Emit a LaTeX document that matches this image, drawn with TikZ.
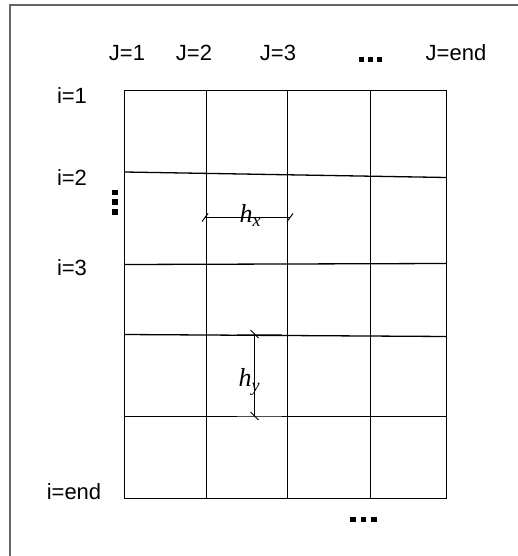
\documentclass[tikz,border=0pt]{standalone}
\usepackage{fontspec}
\setmainfont{Liberation Sans}
\newfontfamily\serifit{Liberation Serif}
\begin{document}
\begin{tikzpicture}[x=1pt,y=-1pt,
  gridline/.style={black,line width=1.3pt},
  frameline/.style={black!60,line width=2pt},
  lbl/.style={font=\fontsize{22}{24}\selectfont,inner sep=0pt},
  dimlabel/.style={font=\fontsize{26}{28}\selectfont\serifit\itshape,inner sep=0pt},
  tick/.style={black,line width=1pt}]
\useasboundingbox (0,0) rectangle (517,556);
\fill[white] (0,0) rectangle (517,556);
% frame (running off the right and bottom)
\draw[frameline] (10,5.5) rectangle (540,580);
% grid
\draw[gridline] (124.5,90.5) rectangle (446.5,498.5);
\foreach \x in {206.5,287.5,370.5} \draw[gridline] (\x,90.5) -- (\x,498.5);
\draw[gridline] (124.5,172) -- (446.5,177.5);
\draw[gridline] (124.5,264.5) -- (446.5,263.5);
\draw[gridline] (124.5,334.5) -- (446.5,336.5);
\draw[gridline] (124.5,416.5) -- (446.5,416.5);
% column labels
\node[lbl] (j1) at (127,53) {J=1};
\node[lbl] (j2) at (194,53) {J=2};
\node[lbl] (j3) at (278,53) {J=3};
\node[lbl] (je) at (456,53) {J=end};
\foreach \x in {361.5,370.5,379.5} \fill[black] (\x-2.8,57) rectangle (\x+2.8,62.5);
% row labels
\node[lbl] (i1) at (72,96) {i=1};
\node[lbl] (i2) at (72,178) {i=2};
\node[lbl] (i3) at (72,268) {i=3};
\node[lbl] (ie) at (74,492) {i=end};
% vertical dots
\foreach \y in {192.5,202,212} \fill[black] (112,\y-2.8) rectangle (117.5,\y+2.8);
% bottom dots
\foreach \x in {353,363.5,374} \fill[black] (\x-2.8,516.5) rectangle (\x+2.8,522);
% h_x dimension
\coordinate (hxa) at (205,217.5);
\coordinate (hxb) at (290,217.5);
\draw[black,line width=1.2pt] (hxa) -- (hxb);
\draw[tick] ([shift={(-3,4)}]hxa) -- ([shift={(3,-4)}]hxa);
\draw[tick] ([shift={(-3,4)}]hxb) -- ([shift={(3,-4)}]hxb);
\node[dimlabel,anchor=base] (hx) at (250,222) {h\raisebox{-0.18em}{\fontsize{18}{18}\selectfont x}};
% h_y dimension
\draw[black!70,line width=1.6pt] (237,334.5) -- (282,334.5);
\draw[black!70,line width=1.6pt] (237,416.5) -- (282,416.5);
\coordinate (hya) at (254.5,334);
\coordinate (hyb) at (254.5,416);
\draw[black,line width=1.2pt] (hya) -- (hyb);
\draw[tick] ([shift={(-4,-4)}]hya) -- ([shift={(4,4)}]hya);
\draw[tick] ([shift={(-4,-4)}]hyb) -- ([shift={(4,4)}]hyb);
\node[dimlabel,anchor=base] (hy) at (249,386) {h\raisebox{-0.22em}{\fontsize{18}{18}\selectfont y}};
\end{tikzpicture}
\end{document}
